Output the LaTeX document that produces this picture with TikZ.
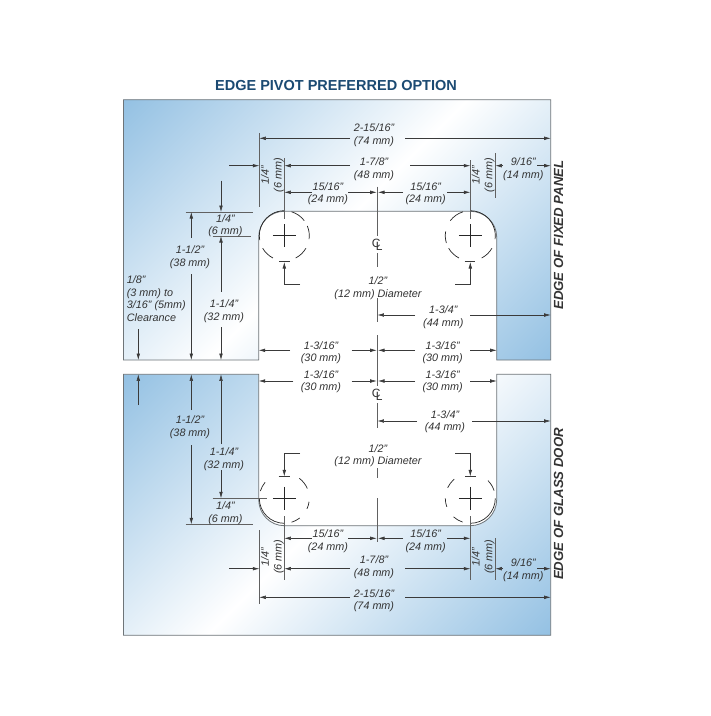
\documentclass[tikz,border=0pt]{standalone}
\usepackage{fontspec}
\setmainfont{Liberation Sans}
\usetikzlibrary{arrows.meta}
\definecolor{glassblue}{HTML}{94C1E3}
\definecolor{titleblue}{HTML}{1B4A72}
\definecolor{dimline}{HTML}{3A3A3A}
\definecolor{edgeline}{HTML}{6E7478}
\pgfdeclareverticalshading{glassdiag}{100bp}{color(0bp)=(glassblue); color(14.64bp)=(glassblue); color(50bp)=(white); color(85.36bp)=(glassblue); color(100bp)=(glassblue)}
\tikzset{
  x=1pt,y=-1pt,
  lbl/.style={font=\fontsize{10.8}{12.6}\selectfont\itshape,text=black!80,inner sep=0pt,align=center,yshift=-1pt},
  lblleft/.style={lbl,align=left},
  side/.style={font=\fontsize{13.2}{16}\selectfont\itshape\bfseries,text=black!80,inner sep=0pt,rotate=90},
  dim/.style={draw=dimline,line width=0.55pt},
  arr/.style={dim,-{Latex[length=6.5pt,width=3.6pt]}},
  ext/.style={draw=dimline!80,line width=0.55pt},
  hole/.style={draw=black!85,line width=0.7pt},
  cross/.style={draw=black!85,line width=0.65pt},
  panel/.style={draw=edgeline,line width=0.8pt},
  glass/.style={shading=glassdiag,shading angle=45}
}
\newcommand{\dimtext}[4]{\node[lbl] (#1) at (#2,#3) {#4};}
\newcommand{\crossmark}[2]{\draw[cross] (#1-11.5,#2) -- (#1+11.5,#2) (#1,#2-11.5) -- (#1,#2+11.5);}
\begin{document}
\begin{tikzpicture}
\useasboundingbox (0,0) rectangle (711,716);
\fill[white] (0,0) rectangle (711,716);

% glass panels
\def\toppanel{(123.5,99.7) -- (550.7,99.7) -- (550.7,360) -- (496.7,360) -- (496.7,237) arc[start angle=0,end angle=90,x radius=26.4,y radius=-25.7] -- (284.3,211.3) arc[start angle=90,end angle=180,x radius=25.6,y radius=-25.7] -- (258.7,360) -- (123.5,360) -- cycle}
\def\botpanel{(123.5,374.3) -- (258.7,374.3) -- (258.7,499.5) arc[start angle=180,end angle=270,x radius=25.6,y radius=-26.2] -- (470.3,525.7) arc[start angle=270,end angle=360,x radius=26.4,y radius=-26.2] -- (496.7,374.3) -- (550.7,374.3) -- (550.7,635.3) -- (123.5,635.3) -- cycle}
\shade[glass] \toppanel;
\shade[glass] \botpanel;
\draw[panel] \toppanel;
\draw[panel] \botpanel;

\node[font=\fontsize{14.5}{18}\selectfont\bfseries,text=titleblue,inner sep=0pt] (title) at (336,85.5) {EDGE PIVOT PREFERRED OPTION};
\node[side] (fixededge) at (558.5,235) {EDGE OF FIXED PANEL};
\node[side] (dooredge) at (558.5,504) {EDGE OF GLASS DOOR};

% centre line
\draw[ext] (377.4,186.7) -- (377.4,236) (377.4,253) -- (377.4,267) (377.4,298) -- (377.4,322) (377.4,335) -- (377.4,386) (377.4,403.3) -- (377.4,428) (377.4,468) -- (377.4,478) (377.4,498) -- (377.4,541.7);
\node[font=\fontsize{12}{12}\selectfont,text=black!80,inner sep=0pt] (cltop) at (377.3,244.5) {C\kern-4.6pt\raisebox{-3pt}{L}};
\node[font=\fontsize{12}{12}\selectfont,text=black!80,inner sep=0pt] (clbot) at (377.3,395) {C\kern-4.6pt\raisebox{-3pt}{L}};

% holes
\crossmark{284.3}{235.7}
\crossmark{470.3}{235.7}
\crossmark{284.3}{498.3}
\crossmark{470.3}{498.3}
\newcommand{\holearc}[4]{\draw[hole] ({#1+25*cos(#3)},{#2-25*sin(#3)}) arc[start angle=#3,end angle=#4,x radius=25,y radius=-25];}
\foreach \a/\b in {90/190,210/243,297/330,352/383,37/73} {\holearc{284.3}{235.7}{\a}{\b}}
\foreach \a/\b in {-8/90,107/143,170/197,210/243,297/330} {\holearc{470.3}{235.7}{\a}{\b}}
\foreach \a/\b in {140/163,23/53,-25/-8,-73/-52,180/270} {\holearc{284.3}{498.3}{\a}{\b}}
\foreach \a/\b in {270/360,228/252,180/200,130/155,18/45} {\holearc{470.3}{498.3}{\a}{\b}}

% diameter leaders
\draw[dim] (279,261.7) -- (290,261.7) (464.5,261.7) -- (475,261.7) (278.5,476.7) -- (289.5,476.7) (465,476.7) -- (476,476.7);
\draw[arr] (300,284) -- (284.3,284) -- (284.3,262);
\draw[arr] (455,284) -- (470.3,284) -- (470.3,262);
\draw[arr] (300,453.7) -- (284.3,453.7) -- (284.3,476.4);
\draw[arr] (455,453.7) -- (470.3,453.7) -- (470.3,476.4);
\dimtext{dia1}{378}{286.9}{1/2"\\(12 mm) Diameter}
\dimtext{dia2}{378}{454.6}{1/2"\\(12 mm) Diameter}

% extension lines, top
\draw[ext] (259.3,133) -- (259.3,206.7);
\draw[ext] (284.3,158) -- (284.3,219);
\draw[ext] (470.3,160) -- (470.3,219);
\draw[ext] (495.4,153) -- (495.4,197.7);
\draw[ext] (185.7,212) -- (252.7,212);
\draw[ext] (212.7,236) -- (251,236);
% extension lines, bottom
\draw[ext] (259.3,530) -- (259.3,604.3);
\draw[ext] (284.3,516) -- (284.3,580);
\draw[ext] (470.3,516) -- (470.3,580);
\draw[ext] (495.4,538) -- (495.4,580);
\draw[ext] (185.7,524.3) -- (252.7,524.3);
\draw[ext] (212.7,498.3) -- (266.7,498.3);

% horizontal dimensions, top
\draw[arr] (350,138.3) -- (259.3,138.3);
\draw[arr] (405,138.3) -- (550.7,138.3);
\dimtext{a1}{374}{134.4}{2-15/16"\\(74 mm)}
\draw[arr] (350,165.7) -- (284.3,165.7);
\draw[arr] (410,165.7) -- (470.3,165.7);
\dimtext{a2}{374}{168}{1-7/8"\\(48 mm)}
\draw[arr] (229.3,165.7) -- (259.3,165.7);
\draw[arr] (311.7,192.3) -- (284.3,192.3);
\draw[arr] (348,192.3) -- (376.7,192.3);
\draw[arr] (403,192.3) -- (378,192.3);
\draw[arr] (447,192.3) -- (470.3,192.3);
\dimtext{a3}{328}{192.8}{15/16"\\(24 mm)}
\dimtext{a4}{425.7}{192.8}{15/16"\\(24 mm)}
\draw[arr] (503,165.7) -- (495.4,165.7);
\draw[arr] (537,165.7) -- (550.7,165.7);
\dimtext{a5}{523.3}{168}{9/16"\\(14 mm)}
\draw[arr] (415,315) -- (377.4,315);
\draw[arr] (470,315) -- (550.7,315);
\dimtext{a6}{443.3}{316.3}{1-3/4"\\(44 mm)}
\draw[arr] (290,350.3) -- (258.7,350.3);
\draw[arr] (351.7,350.3) -- (376.7,350.3);
\draw[arr] (415,350.3) -- (378,350.3);
\draw[arr] (470,350.3) -- (496.7,350.3);
\dimtext{a7}{321}{351.8}{1-3/16"\\(30 mm)}
\dimtext{a8}{442.7}{351.8}{1-3/16"\\(30 mm)}

% horizontal dimensions, bottom
\draw[arr] (293.3,381) -- (258.7,381);
\draw[arr] (351.7,381) -- (376.7,381);
\draw[arr] (415,381) -- (378,381);
\draw[arr] (470,381) -- (496.7,381);
\dimtext{b1}{321}{380.5}{1-3/16"\\(30 mm)}
\dimtext{b2}{442.7}{380.5}{1-3/16"\\(30 mm)}
\draw[arr] (417,421) -- (377.4,421);
\draw[arr] (472,421) -- (550.7,421);
\dimtext{b3}{445}{420.8}{1-3/4"\\(44 mm)}
\draw[arr] (311.7,538.3) -- (284.3,538.3);
\draw[arr] (348,538.3) -- (376.7,538.3);
\draw[arr] (403,538.3) -- (378,538.3);
\draw[arr] (447,538.3) -- (470.3,538.3);
\dimtext{b4}{328}{540.3}{15/16"\\(24 mm)}
\dimtext{b5}{425.7}{540.3}{15/16"\\(24 mm)}
\draw[arr] (350,568.7) -- (284.3,568.7);
\draw[arr] (405,568.7) -- (470.3,568.7);
\dimtext{b6}{374}{566.2}{1-7/8"\\(48 mm)}
\draw[arr] (229.3,568.7) -- (259.3,568.7);
\draw[arr] (503,568.7) -- (495.4,568.7);
\draw[arr] (537,568.7) -- (550.7,568.7);
\dimtext{b7}{523.3}{569.2}{9/16"\\(14 mm)}
\draw[arr] (350,597.3) -- (259.3,597.3);
\draw[arr] (405,597.3) -- (550.7,597.3);
\dimtext{b8}{374}{599.7}{2-15/16"\\(74 mm)}

% rotated labels
\node[lbl,rotate=90] (r1) at (272.5,174) {1/4"\\(6 mm)};
\node[lbl,rotate=90] (r2) at (483.2,174) {1/4"\\(6 mm)};
\node[lbl,rotate=90] (r3) at (272.5,555.7) {1/4"\\(6 mm)};
\node[lbl,rotate=90] (r4) at (483.2,555.7) {1/4"\\(6 mm)};

% vertical dimensions, top
\draw[arr] (221,180.7) -- (221,212);
\draw[arr] (221,291.7) -- (221,236);
\draw[arr] (221,327.3) -- (221,360);
\dimtext{c1}{225.4}{224.7}{1/4"\\(6 mm)}
\dimtext{c2}{224}{310.4}{1-1/4"\\(32 mm)}
\draw[arr] (191.3,237.7) -- (191.3,212);
\draw[arr] (191.3,274.3) -- (191.3,360);
\dimtext{c3}{190}{256.2}{1-1/2"\\(38 mm)}
\draw[arr] (138.3,329.3) -- (138.3,360);
\node[lblleft,anchor=north west] (clear) at (126.7,274.5) {1/8"\\(3 mm) to\\3/16" (5mm)\\Clearance};

% vertical dimensions, bottom
\draw[arr] (138.3,405) -- (138.3,374.3);
\draw[arr] (191.3,410) -- (191.3,374.3);
\draw[arr] (191.3,445) -- (191.3,524.3);
\dimtext{d1}{190}{426.4}{1-1/2"\\(38 mm)}
\draw[arr] (221,444) -- (221,374.3);
\draw[arr] (221,470) -- (221,498.3);
\dimtext{d2}{224}{458.3}{1-1/4"\\(32 mm)}
\dimtext{d3}{225.4}{512.2}{1/4"\\(6 mm)}
\end{tikzpicture}
\end{document}
